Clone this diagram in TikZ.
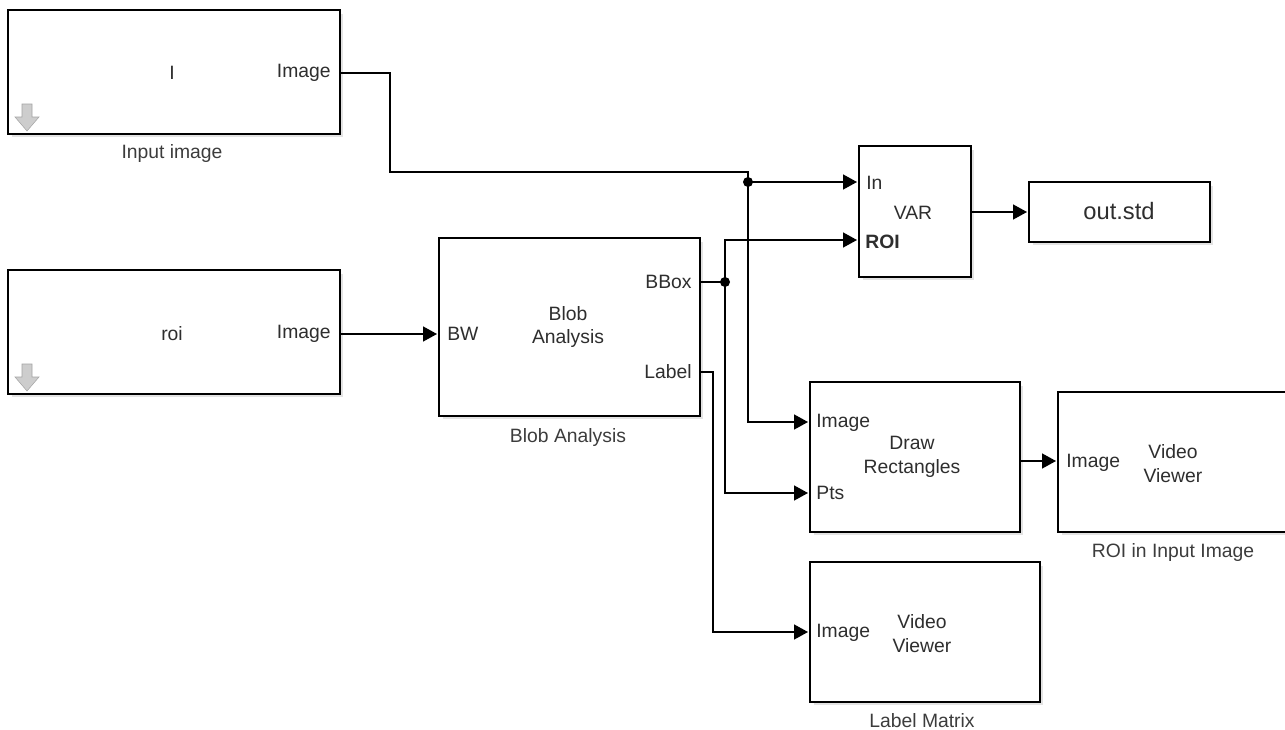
\documentclass[tikz,border=0pt]{standalone}
\usepackage{fontspec}
\setmainfont{Liberation Sans}
\usepackage{tikz}
\usetikzlibrary{positioning,arrows.meta,shadows,calc}
\usepackage{xcolor}
\definecolor{txtgray}{HTML}{2E2E2E}
\definecolor{lblgray}{HTML}{3C3C3C}
\definecolor{icongray}{HTML}{CDCDCD}

\begin{document}
\begin{tikzpicture}[x=0.02cm, y=-0.02cm,
    block/.style={draw=black, line width=1.1pt, fill=white,
        drop shadow={shadow xshift=0.07cm, shadow yshift=-0.07cm, opacity=0.22}},
    wire/.style={line width=0.85pt, draw=black},
    sig/.style={wire, -{Triangle[length=2.8mm, width=3mm]}, shorten >=0.04cm},
    port/.style={font=\fontsize{11}{13.6}\selectfont, text=txtgray, inner sep=0pt},
    caption/.style={font=\fontsize{11}{13.6}\selectfont, text=lblgray, inner sep=0pt},
    junc/.style={fill=black}]
    \useasboundingbox (0,0) rectangle (1285,730);

    % Sorgenti
    \node[block, minimum width=6.64cm, minimum height=2.48cm] (inimg) at (174,72) {};
    \node[block, minimum width=6.64cm, minimum height=2.48cm] (roiblk) at (174,332) {};

    % Blocchi di elaborazione
    \node[block, minimum width=5.22cm, minimum height=3.56cm] (blob) at (569.5,327) {};
    \node[block, minimum width=2.24cm, minimum height=2.62cm] (var) at (915,211.5) {};
    \node[block, minimum width=3.62cm, minimum height=1.2cm] (outstd) at (1119.5,212) {};
    \node[block, minimum width=4.2cm, minimum height=3cm] (drawrect) at (915,457) {};

    % Visualizzatori
    \node[block, minimum width=4.64cm, minimum height=2.8cm] (roiview) at (1174,462) {};
    \node[block, minimum width=4.6cm, minimum height=2.8cm] (lblview) at (925,632) {};

    % Icone freccia grigie
    \foreach \yy in {0,260} {
        \filldraw[fill=icongray, draw=icongray!80!black, line width=0.3pt]
            (22,104+\yy) -- (32,104+\yy) -- (32,117+\yy) -- (39,117+\yy)
            -- (27,131+\yy) -- (15,117+\yy) -- (22,117+\yy) -- cycle;
    }

    % Testi dei blocchi
    \node[port] (inimgName) at (172,73) {I};
    \node[port, anchor=east] (inimgOutTxt) at (331,73) {Image};
    \node[port] (roiName) at (172,334) {roi};
    \node[port, anchor=east] (roiOutTxt) at (331,334) {Image};

    \node[port, anchor=west] (blobBWTxt) at (447,334) {BW};
    \node[port, align=center] (blobName) at (568,327) {Blob\\Analysis};
    \node[port, anchor=east] (blobBBoxTxt) at (692,282) {BBox};
    \node[port, anchor=east] (blobLabelTxt) at (692,372) {Label};

    \node[port, anchor=west] (varInTxt) at (866,183) {In};
    \node[port] (varName) at (913,213) {VAR};
    \node[port, anchor=west, font=\fontsize{11}{13.6}\selectfont\bfseries] (varROITxt) at (865,242) {ROI};

    \node[port, font=\fontsize{13.5}{16}\selectfont] (outName) at (1119,211) {out.std};

    \node[port, anchor=west] (drImgTxt) at (816,423) {Image};
    \node[port, anchor=west] (drPtsTxt) at (816,493) {Pts};
    \node[port, align=center] (drName) at (912,457) {Draw\\Rectangles};

    \node[port, anchor=west] (rvImgTxt) at (1066,463) {Image};
    \node[port, align=center] (rvName) at (1173,464) {Video\\Viewer};

    \node[port, anchor=west] (lvImgTxt) at (816,633) {Image};
    \node[port, align=center] (lvName) at (922,634) {Video\\Viewer};

    % Didascalie
    \node[caption] (inimgCap) at (172,154) {Input image};
    \node[caption] (blobCap) at (568,437) {Blob Analysis};
    \node[caption] (roiviewCap) at (1173,552) {ROI in Input Image};
    \node[caption] (lblviewCap) at (922,721) {Label Matrix};

    % Porte
    \coordinate (inimgOut) at (340,73);
    \coordinate (roiOut) at (340,334);
    \coordinate (blobBW) at (439,334);
    \coordinate (blobBBox) at (700,282);
    \coordinate (blobLabel) at (700,372);
    \coordinate (varIn) at (859,182);
    \coordinate (varROI) at (859,240);
    \coordinate (varOut) at (971,212);
    \coordinate (outIn) at (1029,212);
    \coordinate (drImg) at (810,422);
    \coordinate (drPts) at (810,493);
    \coordinate (drOut) at (1020,461);
    \coordinate (rvIn) at (1058,461);
    \coordinate (lvIn) at (810,632);

    % Nodi di diramazione
    \coordinate (bendA) at (390,172);
    \coordinate (junA) at (748,182);
    \coordinate (junB) at (725,282);

    % Collegamenti
    \draw[wire] (inimgOut) -| (bendA) -| (junA);
    \draw[sig] (junA) -- (varIn);
    \draw[sig] (junA) |- (drImg);
    \fill[junc] (junA) circle (0.1cm);

    \draw[sig] (roiOut) -- (blobBW);
    \draw[wire] (blobBBox) -- (junB);
    \draw[sig] (junB) |- (varROI);
    \draw[sig] (junB) |- (drPts);
    \fill[junc] (junB) circle (0.1cm);

    \draw[sig] (blobLabel) -- ++(13,0) |- (lvIn);
    \draw[sig] (varOut) -- (outIn);
    \draw[sig] (drOut) -- (rvIn);
\end{tikzpicture}
\end{document}
